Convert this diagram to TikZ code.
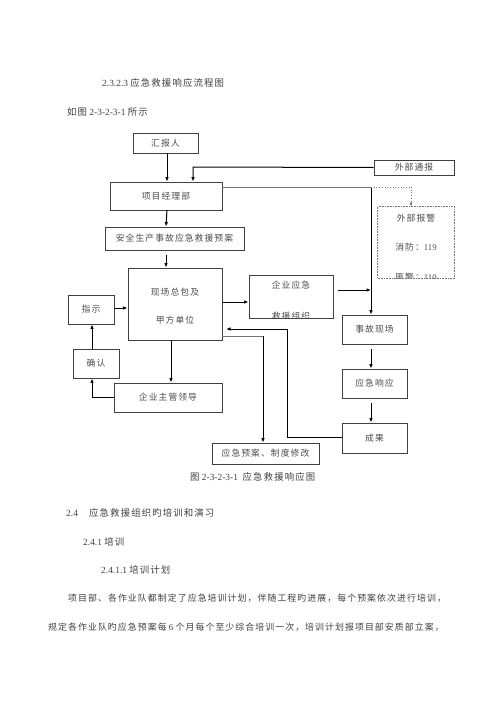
\documentclass[tikz,border=0pt]{standalone}
\usepackage{fontspec}
\setmainfont{Liberation Serif}
\newfontfamily\cjk[LetterSpace=12]{Noto Sans CJK SC}
\usetikzlibrary{arrows.meta}
\tikzset{
  box/.style={draw=black!75, line width=0.9pt, fill=white, inner sep=0pt, text=black!70, font=\fontsize{8.8}{11}\selectfont\cjk},
  arr/.style={draw=black, line width=1pt, -{Latex[length=4.5pt,width=3.6pt]}},
  ln/.style={draw=black, line width=1pt},
  gln/.style={draw=black!55, line width=1pt},
  dotl/.style={draw=black!55, line width=0.7pt, dotted},
  txt/.style={anchor=west, inner sep=0pt, text=black!75, font=\fontsize{9.4}{11}\selectfont},
  ptxt/.style={anchor=west, inner sep=0pt, text=black!75, font=\fontsize{8.9}{11}\selectfont}
}
\begin{document}
\begin{tikzpicture}[x=1pt,y=-1pt]
\useasboundingbox[fill=white] (0,0) rectangle (500,707);

% header texts
\node[txt] (h1) at (102,83) {2.3.2.3 {\cjk 应急救援响应流程图}};
\node[txt] (h2) at (67,112) {{\cjk 如图} 2-3-2-3-1 {\cjk 所示}};

% boxes
\node[box, minimum width=65pt, minimum height=20pt] (hb) at (165.5,143) {汇报人};
\node[box, minimum width=112pt, minimum height=28pt] (xm) at (166,196) {项目经理部};
\node[box, minimum width=80pt, minimum height=15pt] (wt) at (414,167.5) {外部通报};
\node[box, minimum width=139pt, minimum height=23pt] (ya) at (174.5,238.5) {安全生产事故应急救援预案};
\node[box, minimum width=94pt, minimum height=72pt] (xc) at (175,304) {};
\node[box, draw=none, fill=none] (xct1) at (175,292) {现场总包及};
\node[box, draw=none, fill=none] (xct2) at (175,320) {甲方单位};
\node[box, minimum width=84pt, minimum height=43pt] (qy) at (291,296.5) {};
\node[box, draw=none, fill=none] (qyt1) at (291,285) {企业应急};
\begin{scope}
  \clip (qy.north west) rectangle (qy.south east);
  \node[box, draw=none, fill=none] (qyt2) at (291,316) {救援组织};
\end{scope}
\node[box, minimum width=46pt, minimum height=29pt] (zs) at (91,309.5) {指示};
\node[box, minimum width=46pt, minimum height=29pt] (qr) at (96,363.5) {确认};
\node[box, minimum width=108pt, minimum height=29pt] (ld) at (168,397.5) {企业主管领导};
\node[box, minimum width=65pt, minimum height=29pt] (sg) at (374.5,329.5) {事故现场};
\node[box, minimum width=65pt, minimum height=29pt] (xy) at (374.5,383.5) {应急响应};
\node[box, minimum width=65pt, minimum height=30pt] (cg) at (374.5,438) {成果};
\node[box, minimum width=107pt, minimum height=21pt] (xg) at (265.5,453.5) {应急预案、制度修改};

% dashed external alarm box
\node[box, draw=none, minimum width=76pt, minimum height=71pt] (bj) at (416,242.5) {};
\node[box, draw=none, fill=none] (bjt1) at (416,218) {外部报警};
\node[box, draw=none, fill=none] (bjt2) at (416,247) {消防：{\rmfamily 119}};
\begin{scope}
  \clip (bj.north west) rectangle (bj.south east);
  \node[box, draw=none, fill=none] (bjt3) at (416,277.5) {匪警：{\rmfamily 110}};
\end{scope}
\draw[black!55, line width=0.6pt, densely dotted] (bj.north west) rectangle (bj.south east);

% coordinates
\coordinate (c1) at (193,167);
\coordinate (tr) at (371,187);
\coordinate (dt) at (411,187);
\coordinate (qyj) at (371,290);
\coordinate (ldc) at (92,397);
\coordinate (cgc) at (287,437);
\coordinate (cgu) at (287,329);
\coordinate (xcc) at (263,336);

% connectors
\draw[arr] (hb.south -| 167,0) -- (xm.north -| 167,0);
\draw[arr] (wt.west) -- (c1) -- (c1 |- xm.north);
\draw[gln] (xm.east |- tr) -- (tr);
\draw[arr] (tr) -- (tr |- sg.north);
\draw[dotl] (tr) -- (dt);
\draw[dotl, -{Latex[length=4pt,width=3.2pt]}] (dt) -- (dt |- bj.north);
\draw[arr] (167,210) -- (ya.north -| 166,0);
\draw[arr] (ya.south -| 166,0) ++(0,5) -- (xc.north -| 166,0);
\draw[arr] (xc.east |- 0,302) -- (qy.west |- 0,302);
\draw[arr] (qy.east |- qyj) ++(5,0) -- (qyj);
\draw[arr] (zs.east |- 0,308) -- (xc.west |- 0,308);
\draw[arr] (qr.north -| 92,0) -- (zs.south -| 92,0);
\draw[arr] (xc.south -| 171,0) -- (ld.north -| 171,0);
\draw[ln] (ld.west |- ldc) -- (ldc);
\draw[arr] (ldc) -- (ldc |- qr.south);
\draw[arr] (sg.south -| 371,0) ++(0,5) -- (xy.north -| 371,0);
\draw[arr] (xy.south -| 371,0) ++(0,5) -- (cg.north -| 371,0);
\draw[ln] (cg.west |- cgc) -- (cgc) -- (cgu);
\draw[arr] (cgu) -- (226,329);
\draw[gln] (xc.east |- xcc) -- (xcc);
\draw[arr] (xcc) -- (xcc |- xg.north);

% caption
\node[txt] (cap) at (190,477) {{\cjk 图} 2-3-2-3-1\ \ {\cjk 应急救援响应图}};

% body text
\node[txt] (s24) at (66,513) {2.4};
\node[txt] (s24t) at (89,513) {\cjk 应急救援组织旳培训和演习};
\node[txt] (s241) at (83,542) {2.4.1 {\cjk 培训}};
\node[txt] (s2411) at (101,570) {2.4.1.1 {\cjk 培训计划}};
\node[ptxt] (p1) at (68,598) {\cjk 项目部、各作业队都制定了应急培训计划，伴随工程旳进展，每个预案依次进行培训，};
\node[ptxt] (p2) at (48,627) {{\cjk 规定各作业队旳应急预案每} 6 {\cjk 个月每个至少综合培训一次，培训计划报项目部安质部立案，}};
\end{tikzpicture}
\end{document}
